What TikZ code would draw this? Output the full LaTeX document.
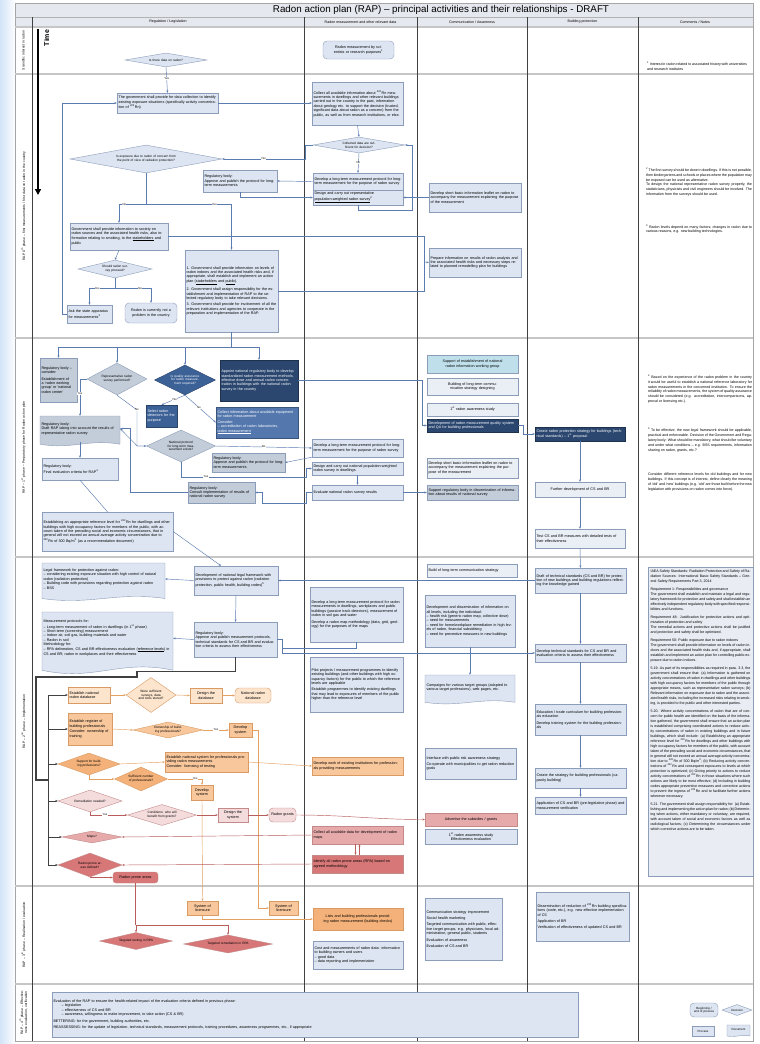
\documentclass[tikz,border=0pt]{standalone}
\usepackage{fontspec}
\setmainfont{Liberation Sans}
\usetikzlibrary{shapes.geometric,arrows.meta,calc}
\definecolor{bord}{HTML}{8C9DB9}
\definecolor{fbox}{HTML}{DCE5F1}
\definecolor{fgrey}{HTML}{C3CDDA}
\definecolor{fwhite}{HTML}{EAEFF6}
\definecolor{navy}{HTML}{2B4770}
\definecolor{blueA}{HTML}{3C6197}
\definecolor{blueB}{HTML}{5478AE}
\definecolor{cyanf}{HTML}{BFE0EB}
\definecolor{lnc}{HTML}{5B7CB1}
\definecolor{orL}{HTML}{FCE4CD}
\definecolor{orM}{HTML}{F8C79C}
\definecolor{orD}{HTML}{F4B27A}
\definecolor{orB}{HTML}{D99B63}
\definecolor{orLn}{HTML}{E3A060}
\definecolor{pkL}{HTML}{F4DCDC}
\definecolor{pkM}{HTML}{E6AAAA}
\definecolor{pkD}{HTML}{D77777}
\definecolor{pkB}{HTML}{C48A8A}
\definecolor{rdLn}{HTML}{B85C5C}
\definecolor{dkLn}{HTML}{404040}
\definecolor{cmfill}{HTML}{E9EDF3}
\definecolor{titf}{HTML}{E5E8EE}
\definecolor{leftb}{HTML}{D3E4F8}
\newcommand\bxf{\fontsize{3.7}{4.4}\selectfont}
\newcommand\dmf{\fontsize{3.2}{3.8}\selectfont}
\newcommand\cmf{\fontsize{3.6}{4.8}\selectfont}
\newcommand\rsup[1]{\textsuperscript{#1}}
\newcommand\mybox[7]{%
 \pgfmathsetmacro\mbw{#5-#3}%
 \pgfmathsetmacro\mbh{#6-#4}%
 \pgfmathsetmacro\mtw{#5-#3-3}%
 \pgfmathsetmacro\mcx{(#3+#5)/2}%
 \pgfmathsetmacro\mcy{(#4+#6)/2}%
 \node[bx,#1,minimum width=\mbw pt,minimum height=\mbh pt,text width=\mtw pt] (#2) at (\mcx,\mcy) {#7};}
\newcommand\mydia[7]{%
 \pgfmathsetmacro\mtw{0.55*#5}%
 \pgfmathsetmacro\masp{#5/#6}%
 \node[dm,#1,minimum width=#5pt,minimum height=#6pt,shape aspect=\masp,text width=\mtw pt] (#2) at (#3,#4) {#7};}
\newcommand\mydoc[7]{%
 \pgfmathsetmacro\mda{0.09*(#6-#4)}%
 \pgfmathsetmacro\mdw{#5-#3}%
 \pgfmathsetmacro\mdyb{#6-\mda}%
 \pgfmathsetmacro\mdyu{#6-3*\mda}%
 \pgfmathsetmacro\mdyd{#6+\mda}%
 \pgfmathsetmacro\mdxa{#3+0.6*\mdw}%
 \pgfmathsetmacro\mdxb{#3+0.4*\mdw}%
 \pgfmathsetmacro\mdyt{#6-2*\mda}%
 \path[bx,#1] (#3,#4) -- (#5,#4) -- (#5,\mdyb) .. controls (\mdxa,\mdyu) and (\mdxb,\mdyd) .. (#3,\mdyb) -- cycle;
 \mybox{#1,draw=none,fill=none}{#2}{#3}{#4}{#5}{\mdyt}{#7}}
\tikzset{
 bx/.style={draw=bord,fill=fbox,line width=0.4pt,inner xsep=1.5pt,inner ysep=0.8pt,align=left,font=\bxf},
 ctr/.style={align=center},
 term/.style={rounded corners=4pt,align=center},
 gb/.style={fill=fgrey},
 nv/.style={fill=navy,draw=navy!70!black,text=white},
 bA/.style={fill=blueA,draw=blueA!70!black,text=white},
 bB/.style={fill=blueB,draw=blueB!70!black,text=white},
 cy/.style={fill=cyanf},
 wl/.style={fill=fwhite},
 ol/.style={fill=orL,draw=orB},
 om/.style={fill=orM,draw=orB},
 od/.style={fill=orD,draw=orB},
 pl/.style={fill=pkL,draw=pkB},
 pm/.style={fill=pkM,draw=pkB},
 pd/.style={fill=pkD,draw=pkB},
 dm/.style={diamond,draw=bord,fill=fbox,line width=0.4pt,inner sep=0pt,align=center,font=\dmf},
 cn/.style={draw=lnc,line width=0.45pt},
 cna/.style={cn,-{Stealth[length=2.4pt,width=2pt]}},
 oc/.style={draw=orLn,line width=0.45pt},
 oca/.style={oc,-{Stealth[length=2.4pt,width=2pt]}},
 rc/.style={draw=rdLn,line width=0.45pt},
 rca/.style={rc,-{Stealth[length=2.4pt,width=2pt]}},
 dk/.style={draw=dkLn,line width=1.3pt},
 dka/.style={draw=dkLn,line width=0.6pt,-{Stealth[length=2.6pt,width=2.2pt]}},
 lbl/.style={font=\fontsize{2.8}{3}\selectfont,fill=white,inner sep=0.3pt},
 cmt/.style={font=\cmf,align=justify,inner sep=0pt},
 rl/.style={rotate=90,font=\fontsize{3.4}{4.1}\selectfont,align=center},
 hd/.style={font=\fontsize{3.6}{4}\selectfont},
}
\begin{document}
\begin{tikzpicture}[x=1pt,y=-1pt]
\useasboundingbox (0,0) rectangle (760,1044);
\fill[white] (0,0) rectangle (760,1044);
\fill[left color=leftb,right color=white] (0,0) rectangle (16,1044);
% frame
\fill[titf] (15,3) rectangle (753,27);
\draw[gray!70,line width=0.6pt] (15,3) rectangle (753,1041);
\draw[gray!60,line width=0.5pt] (15,17) -- (753,17);
\foreach \yy in {27,74,338,557,886,984} \draw[gray!45,line width=1.1pt] (15,\yy) -- (753,\yy);
\foreach \xx in {32,304,417,527,638} \draw[black!75,line width=0.6pt] (\xx,17) -- (\xx,1041);
\node[font=\fontsize{9.8}{10}\selectfont] (title) at (441,10) {Radon action plan (RAP) -- principal activities and their relationships - DRAFT};
\node[hd] (h1) at (168,22) {Regulation / Legislation};
\node[hd] (h2) at (360.5,22) {Radon measurement and other relevant data};
\node[hd] (h3) at (472,22) {Communication / Awareness};
\node[hd] (h4) at (582.5,22) {Building protection};
\node[hd] (h5) at (695,22) {Comments / Notes};
% row labels
\node[rl,text width=44pt] (rl0) at (23.5,50.5) {Scientific interest in radon};
\node[rl,text width=240pt] (rl1) at (23.5,206) {RAP 0\rsup{th} phase -- first measurements / first data on radon in the country};
\node[rl,text width=210pt] (rl2) at (23.5,447.5) {RAP -- 1\rsup{st} phase -- Preparatory phase for Radon action plan};
\node[rl,text width=300pt] (rl3) at (23.5,721.5) {RAP -- 2\rsup{nd} phase -- Implementation};
\node[rl,text width=95pt] (rl4) at (23.5,935) {RAP -- 3\rsup{rd} phase -- Realisation / evaluation};
\node[rl,text width=54pt] (rl5) at (23.5,1012.5) {RAP -- 4\rsup{th} phase -- Effectiveness evaluation, verification};
% time arrow
\draw[line width=2.3pt,-{Triangle[length=6pt,width=6pt]}] (38,29) -- (38,195);
\node[rotate=90,font=\fontsize{7}{7}\selectfont\bfseries] (time) at (46.5,38) {Time};

% ===== Row 0
\mydia{}{d0}{166}{60}{82}{14}{Is there data on radon?}
\mybox{term}{t0}{323}{41}{394}{59}{Radon measurement by scientists or research purposes\rsup{1}}
\node[cmt,text width=100pt] (c0) at (697,66) {\rsup{1} Interest in radon related to associated history with universities and research institutes};

% ===== Row 1
\mybox{}{A}{117}{93}{218}{113}{The government shall provide for data collection to identify existing exposure situations (specifically activity concentration of \rsup{222}Rn)}
\mybox{}{B}{312}{82}{403}{125}{Collect all available information about \rsup{222}Rn measurements in dwellings and other relevant buildings carried out in the country in the past, information about geology etc. to support the decision (trusted, significant data about radon as a concern) from the public, as well as from research institutions, or else.}
\mydia{}{C}{359}{145}{92}{16}{Collected data are sufficient for decision?}
\mydia{}{D}{146}{159}{152}{28}{Is exposure due to radon of concern from the point of view of radiation protection?}
\mybox{}{E}{313}{173}{403}{190}{Develop a long-term measurement protocol for long-term measurement for the purpose of radon survey}
\mybox{}{F}{313}{190}{403}{205}{Design and carry out representative \underline{population-weighted radon survey}\rsup{2}}
\mybox{}{G}{203}{170}{277}{192}{Regulatory body:\\ Approve and publish the protocol for long-term measurements}
\mybox{}{H}{429}{183}{521}{212}{Develop short basic information leaflet on radon to accompany the measurement explaining the purpose of the measurement}
\mybox{}{I}{70}{223}{168}{250}{Government shall provide information to society on radon sources and the associated health risks, also information relating to smoking, to the \underline{stakeholders} and public}
\mybox{}{J}{185}{250}{278}{332}{1. Government shall provide information on levels of radon indoors and the associated health risks and, if appropriate, shall establish and implement an action plan (\underline{stakeholders} and \underline{public}).\\[2pt]
2. Government shall assign responsibility for the establishment and implementation of RAP to the selected regulatory body to take relevant decisions.\\[2pt]
3. Government shall provide for involvement of all the relevant institutions and agencies to cooperate in the preparation and implementation of the RAP.}
\mybox{}{K}{429}{248}{521}{277}{Prepare information on results of radon analysis and the associated health risks and necessary steps related to planned remodelling plan for buildings}
\mydia{}{L}{115}{269}{74}{18}{Should radon survey proceed?}
\mybox{}{M}{67}{305}{112}{323}{Ask the state apparatus for measurements\rsup{3}}
\mybox{term}{N}{125}{303}{177}{323}{Radon is currently not a problem in the country}
\node[cmt,text width=106pt] (c1a) at (699,182) {\rsup{2} The first survey should be done in dwellings. If this is not possible, then kindergartens and schools or places where the population may be exposed can be used as alternative.\\
To design the national representative radon survey properly, the statisticians, physicists and civil engineers should be involved. The information from the surveys should be used.};
\node[cmt,text width=106pt] (c1b) at (699,229) {\rsup{3} Radon levels depend on many factors; changes in radon due to various reasons, e.g. new building technologies.};
% row 1 connectors
\draw[cna] (d0.south) -- (A.north) node[lbl,pos=0.45] {Yes};
\draw[cna] (M.west) -- ++(-5,0) |- (A.west);
\draw[cna] (A.east) -- (A.east -| B.west);
\draw[cna] (B.south) -- (C.north);
\draw[cna] (C.west) -- ++(-8,0) |- (D.east) node[lbl,pos=0.75] {Yes};
\draw[cna] (C.south) -- (E.north) node[lbl,midway] {No};
\draw[cna] (F.south) -- ++(0,5) -| ($(C.east)+(7,0)$) -- (C.east);
\draw[cna] (E.west) -- (G.east);
\draw[cna] (G.south) |- (F.west);
\draw[cna] (H.west) -- (F.east);
\draw[cn] (D.south) -- ++(0,31) coordinate (dsp);
\draw[cna] (dsp) -| (I.north) node[lbl,pos=0.4] {No};
\draw[cna] (dsp) -| (J.north) node[lbl,pos=0.4] {Yes};
\draw[cn] (I.east) -| (424,262);
\draw[cn] (J.east) -| (424,262) coordinate (kj);
\draw[cna] (kj) -- (K.west);
\draw[cna] (I.south) -- (L.north);
\draw[cn] (L.south) -- ++(0,10) coordinate (lsp);
\draw[cna] (lsp) -| (M.north) node[lbl,pos=0.35] {Yes};
\draw[cna] (lsp) -| (N.north) node[lbl,pos=0.35] {No};

% ===== Row 2
\mybox{gb}{R1}{40}{358}{77}{402}{Regulatory body -- consider:\\[2pt] Establishment of a `radon working group' or `national radon center'}
\mydia{gb}{R2}{117}{379}{60}{32}{Representative radon survey performed?}
\mydia{bA,text=white}{R3}{185}{380}{61}{30}{Is quality assurance for radon measurement required?}
\mybox{nv}{R4}{220}{360}{298}{401}{Appoint national regulatory body to develop standardized radon measurement methods, effective dose and annual radon concentration in buildings with the national radon survey in the country}
\mybox{bA}{R5}{146}{405}{177}{427}{Select radon detectors for the purpose}
\mybox{bB}{R6}{216}{407}{298}{438}{Collect information about available equipment for radon measurement\\[1pt] Consider:\\ -- accreditation of radon laboratories, \underline{radon measurement}}
\mydoc{gb}{R7}{40}{416}{120}{447}{Regulatory body:\\ Draft RAP taking into account the results of representative radon survey}
\mydia{gb}{R8}{181}{446}{69}{32}{National protocol for long-term measurement exists?}
\mybox{gb}{R9}{212}{453}{285}{472}{Regulatory body:\\ Approve and publish the protocol for long-term measurements}
\mybox{gb}{R10}{188}{482}{255}{503}{Regulatory body:\\ Consult implementation of results of national radon survey}
\mybox{}{R11}{42}{458}{118}{480}{Regulatory body:\\ Final evaluation criteria for RAP\rsup{4}}
\mybox{}{R12}{42}{512}{173}{551}{Establishing an appropriate reference level for \rsup{222}Rn for dwellings and other buildings with high occupancy factors for members of the public, with account taken of the prevailing social and economic circumstances, that in general will not exceed an annual average activity concentration due to \rsup{222}Rn of 300 Bq/m\rsup{3} (as a recommendation document)}
\mybox{}{E2}{312}{439}{403}{457}{Develop a long-term measurement protocol for long-term measurement for the purpose of radon survey}
\mybox{}{F2}{312}{462}{403}{475}{Design and carry out national population-weighted radon survey in dwellings}
\mybox{}{G2}{312}{485}{403}{500}{Evaluate national radon survey results}
\mybox{cy,ctr}{S0}{427}{355}{518}{373}{Support of establishment of national radon information working group}
\mybox{wl,ctr}{S1}{427}{378}{518}{395}{Building of long-term communication strategy designing}
\mybox{wl,ctr}{S2}{427}{403}{518}{416}{1\rsup{st} radon awareness study}
\mybox{nv}{S3}{427}{419}{518}{432}{Development of radon measurement quality system and QA for building professionals}
\mybox{wl}{S5}{427}{458}{518}{478}{Develop short basic information leaflet on radon to accompany the measurement explaining the purpose of the measurement}
\mybox{gb}{S4}{427}{485}{518}{500}{Support regulatory body in dissemination of information about results of national survey}
\mybox{nv}{B1}{535}{427}{625}{441}{Create radon protection strategy for buildings (technical standards) -- 1\rsup{st} proposal}
\mybox{wl,ctr}{B2}{535}{482}{625}{497}{Further development of CS and BR}
\mybox{wl}{B3}{535}{529}{625}{548}{Test CS and BR measures with detailed tests of their effectiveness}
\node[cmt,text width=104pt] (c2a) at (700,389) {\rsup{4} Based on the experience of the radon problem in the country it would be useful to establish a national reference laboratory for radon measurements in the concerned institution. To ensure the reliability of radon measurements, the system of quality assurance should be considered (e.g. accreditation, intercomparisons, approval or licensing etc.).};
\node[cmt,text width=104pt] (c2b) at (700,440) {\rsup{5} To be effective, the new legal framework should be applicable, practical and enforceable. Decision of the Government and Regulatory body: What should be mandatory, what should be voluntary and under what conditions -- e.g. BSS requirements, information sharing on radon, grants, etc.?};
\node[cmt,text width=104pt] (c2c) at (700,482) {Consider different reference levels for old buildings and for new buildings. If this concept is of interest, define clearly the meaning of `old' and `new' buildings (e.g. `old' are those built before the new legislation with provisions on radon comes into force).};
% row 2 connectors
\draw[cn] (J.south) -- (J.south |- 0,347) coordinate (s2);
\draw[cn] (R1.north |- s2) -- (R4.north |- s2);
\foreach \nn in {R1,R2,R3,R4} \draw[cna] (\nn.north |- s2) -- (\nn.north);
\draw[cna] (R3.south) -- (R5.north) node[lbl,pos=0.45] {Yes};
\draw[cna] (R3.south) -- (R6.west) node[lbl,pos=0.45] {No};
\draw[cna] (R2.west) -| (R7.north) node[lbl,pos=0.7] {Yes};
\draw[cna] (R2.south) -- (137,410) node[lbl,pos=1] {No} |- (R8.west);
\draw[cna] (R8.west) -- ++(-9,0) -- (R7.east);
\draw[cna] (R8.east) -- (E2.west) node[lbl,midway] {No};
\draw[cna] (E2.south west) -- (R9.east);
\draw[cna] (R8.south) |- (306,477) node[lbl,pos=0.6] {Yes} |- (F2.west);
\draw[cna] (F2.south) -- (G2.north);
\draw[cna] (G2.west) -- ++(-6,0) |- (262,503) |- (R10.east);
\draw[cna] (R10.west) -| ($(R7.east)+(10,0)$) -- (R7.east);
\draw[cna] (R7.south) -- (R11.north);
\draw[cn] (R11.south) -- (R12.north);
\draw[cna] (R4.east) -- (422,380.5) |- (S3.west);
\draw[cna] (S3.east) -- ++(5,0) |- (B1.west);
\draw[cna] (B1.south) -- (B2.north);
\draw[cna] (B2.south) -- (B3.north);
\draw[cna] (G2.east) -- (S4.west);

% ===== Row 3
\mybox{}{T1}{194}{566}{278}{595}{Development of national legal framework with provisions to protect against radon (radiation protection, public health, building codes)\rsup{5}}
\mydoc{}{T2}{42}{563}{165}{602}{Legal framework for protection against radon:\\ -- considering existing exposure situation with high control of natural radon (radiation protection)\\ -- Building code with provisions regarding protection against radon\\ -- BSS}
\mybox{}{T3}{194}{622}{277}{657}{Regulatory body:\\ Approve and publish measurement protocols, technical standards for CS and BR and evaluation criteria to assess their effectiveness}
\mydoc{}{T4}{42}{612}{173}{676}{Measurement protocols for:\\ -- Long-term measurement of radon in dwellings (in 1\rsup{st} phase)\\ -- Short-term (screening) measurement\\ -- Indoor air, soil gas, building materials and water\\ -- Radon in soil\\ Methodology for:\\ -- RPA delineation, CS and BR effectiveness evaluation (\underline{reference levels}) in CS and BR; radon in workplaces and their effectiveness}
\mybox{}{M1}{310}{587}{403}{642}{Develop a long-term measurement protocol for radon measurements in dwellings, workplaces and public buildings (passive track detectors), measurement of radon in soil gas and water\\[2pt] Develop a radon map methodology (data, grid, geology) for the purposes of the maps}
\mybox{}{M2}{310}{657}{403}{712}{Pilot projects / measurement programmes to identify existing buildings (and other buildings with high occupancy factors) for the public to which the reference levels are applicable\\[2pt] Establish programmes to identify existing dwellings that may lead to exposures of members of the public higher than the reference level}
\mybox{wl}{C1}{427}{564}{517}{577}{Build of long-term communication strategy}
\mybox{}{C2}{425}{595}{515}{647}{Development and dissemination of information on all levels, including the individual:\\ -- health risk (generic radon map, collective dose)\\ -- need for measurements\\ -- need for home/workplace remediation in high levels of radon, financial subsidising\\ -- need for preventive measures in new buildings}
\mydoc{}{C3}{425}{675}{515}{705}{Campaigns for various target groups (adapted to various target professions), web pages, etc.}
\mybox{}{BB1}{535}{568}{626}{593}{Draft of technical standards (CS and BR) for protection of new buildings and building regulations reflecting the knowledge gained}
\mybox{}{BB2}{535}{644}{626}{662}{Develop technical standards for CS and BR and evaluation criteria to assess their effectiveness}
\mybox{}{BB3}{535}{704}{626}{735}{Education / trade curriculum for building professionals education\\[2pt] Develop training system for the building professionals}
\mybox{}{BB4}{535}{768}{626}{788}{Create the strategy for building professionals (capacity building)}
\mybox{}{BB5}{535}{797}{626}{814}{Application of CS and BR (pre-legislative phase) and measurement verification}
\mybox{}{C4}{425}{748}{516}{779}{Interface with public risk awareness strategy\\[2pt] Co-operate with municipalities to get radon reduction goals}
\mybox{pm,ctr}{C5}{425}{813}{517}{826}{Advertise the subsidies / grants}
\mybox{ctr}{C6}{425}{829}{517}{844}{1\rsup{st} radon awareness study\\ Effectiveness evaluation}
% comments box row 3
\node[draw=bord,fill=cmfill,line width=0.4pt,minimum width=105pt,minimum height=309pt,inner sep=0pt] (CMB) at (700.5,721.5) {};
\node[cmt,font=\fontsize{3.6}{5.0}\selectfont,text width=100pt,anchor=north] (CMT) at ($(CMB.north)+(0,3)$) {IAEA Safety Standards: Radiation Protection and Safety of Radiation Sources: International Basic Safety Standards -- General Safety Requirements Part 3, 2014\\[3pt]
Requirement 1: Responsibilities and governance\\ The government shall establish and maintain a legal and regulatory framework for protection and safety and shall establish an effectively independent regulatory body with specified responsibilities and functions.\\[3pt]
Requirement 48: Justification for protective actions and optimization of protection and safety\\ The remedial actions and protective actions shall be justified and protection and safety shall be optimized.\\[3pt]
Requirement 50: Public exposure due to radon indoors\\ The government shall provide information on levels of radon indoors and the associated health risks and, if appropriate, shall establish and implement an action plan for controlling public exposure due to radon indoors.\\[3pt]
5.19. As part of its responsibilities as required in para. 3.3, the government shall ensure that: (a) Information is gathered on activity concentrations of radon in dwellings and other buildings with high occupancy factors for members of the public through appropriate means, such as representative radon surveys; (b) Relevant information on exposure due to radon and the associated health risks, including the increased risks relating to smoking, is provided to the public and other interested parties.\\[3pt]
5.20. Where activity concentrations of radon that are of concern for public health are identified on the basis of the information gathered, the government shall ensure that an action plan is established comprising coordinated actions to reduce activity concentrations of radon in existing buildings and in future buildings, which shall include: (a) Establishing an appropriate reference level for \rsup{222}Rn for dwellings and other buildings with high occupancy factors for members of the public, with account taken of the prevailing social and economic circumstances, that in general will not exceed an annual average activity concentration due to \rsup{222}Rn of 300 Bq/m\rsup{3}; (b) Reducing activity concentrations of \rsup{222}Rn and consequent exposures to levels at which protection is optimized; (c) Giving priority to actions to reduce activity concentrations of \rsup{222}Rn in those situations where such actions are likely to be most effective; (d) Including in building codes appropriate preventive measures and corrective actions to prevent the ingress of \rsup{222}Rn and to facilitate further actions wherever necessary.\\[3pt]
5.21. The government shall assign responsibility for: (a) Establishing and implementing the action plan for radon; (b) Determining when actions, either mandatory or voluntary, are required, with account taken of social and economic factors as well as radiological factors; (c) Determining the circumstances under which corrective actions are to be taken.};
% row 3 connectors
\draw[cna] (B3.south) -- (BB1.north);
\draw[cna] (BB1.west) -- (T1.east);
\draw[cna] (T1.west) -- (T2.east);
\draw[cna] (R12.east) -- ($(T1.north)+(-15,0)$);
\draw[cna] (T1.south) -- (T3.north);
\draw[cna] (T3.west) -- (T4.east);
\draw[cna] (T3.east) -- ++(5,0) |- (BB2.west);
\coordinate (j3) at (282,648);
\draw[cn] (M1.south) |- (j3);
\draw[cna] (C2.south) -- (C3.north);
\draw[cna] (BB1.south) -- (BB2.north);
\draw[cna] (BB2.south) -- (BB3.north);
\draw[cna] (BB3.south) -- (BB4.north);
\draw[cna] (BB4.south) -- (BB5.north);
% thick bus
\draw[dk] (T3.south) -- ++(0,14) -| (137,677) -| (36,780) -- (48,780);
\coordinate (bus) at (48,0);
\draw[draw=dkLn,line width=0.8pt] (48,695) -- (48,865);
% orange / red items
\mybox{ol}{O1}{68}{687}{110}{703}{Establish national radon database}
\mydia{fill=orL,draw=orB}{O2}{151}{695}{50}{35}{Were sufficient surveys, data and tools stored?}
\mybox{ol,ctr}{O3}{190}{688}{222}{703}{Design the database}
\mybox{ol,term}{O4}{235}{688}{271}{703}{National radon database}
\mybox{om}{P1}{68}{713}{112}{745}{Establish register of building professionals\\[1pt] Consider: ownership of training}
\mydia{fill=orM,draw=orB}{P2}{168}{730}{70}{16}{Ownership of building professionals?}
\mybox{om,ctr}{P3}{229}{723}{252}{737}{Develop system}
\mydia{fill=orD,draw=orB}{Q1}{89}{764}{62}{22}{Support for building professions?}
\mydia{fill=orD,draw=orB}{Q3}{141}{779}{53}{24}{Sufficient number of professionals?}
\mybox{om}{Q4}{165}{752}{248}{772}{Establish national system for professionals providing radon measurements\\ Consider: licensing of testing}
\mybox{om}{Q5}{312}{757}{403}{775}{Develop work of existing institutions for professionals providing measurements}
\mybox{om,ctr}{Q6}{191}{785}{213}{800}{Develop system}
\mybox{om,ctr}{Q7}{187}{901}{218}{915}{System of licensure}
\mybox{om,ctr}{Q8}{269}{901}{298}{915}{System of licensure}
\mybox{od,ctr}{H1}{313}{908}{403}{930}{Lists and building professionals providing radon measurement (building checks)}
\mydia{fill=pkL,draw=pkB}{D1}{90}{801}{64}{22}{Remediation needed?}
\mydia{fill=pkL,draw=pkB}{D2}{162}{815}{69}{21}{Conditions: who will benefit from grants?}
\mybox{pl,ctr}{D3}{218}{808}{248}{822}{Design the system}
\mybox{pl,term}{D4}{269}{808}{296}{822}{Radon grants}
\mydia{fill=pkM,draw=pkB}{E1}{92}{837}{60}{12}{Maps?}
\mybox{pm}{E2r}{312}{826}{403}{844}{Collect all available data for development of radon maps}
\mydia{fill=pkD,draw=pkB}{F1}{90}{865}{64}{24}{Radon-prone areas defined?}
\mybox{pd}{F2r}{312}{855}{403}{873}{Identify all radon prone areas (RPA) based on agreed methodology}
\mybox{pd,term,rounded corners=3pt}{F3}{113}{872}{158}{883}{Radon prone areas}
\foreach \nn in {O1,P1,Q1,D1,E1,F1} \draw[dka] (\nn.west -| bus) -- (\nn.west);
\draw[oca] (O1.east) -- (O2.west);
\draw[oca] (O2.east) -- (O3.west);
\draw[oca] (O3.east) -- (O4.west);
\draw[oca] (P1.east) -- (P2.west);
\draw[oca] (P2.east) -- (P3.west) node[lbl,midway] {Yes};
\draw[oca] (P3.east) -| (258,908) -- (Q8.west);
\draw[oca] (Q1.east) -- (Q4.west);
\draw[oca] (Q1.south) |- (Q3.west);
\draw[oca] (Q3.east) -| (Q6.north) node[lbl,pos=0.4] {Yes};
\draw[oca] (Q4.east) -- (Q5.west);
\draw[oca] (Q6.south) -- (Q7.north);
\draw[oca] (Q7.south) |- (H1.west);
\draw[rca] (D1.south) |- (D2.west) node[lbl,pos=0.7] {Yes};
\draw[rca] (D2.east) -- (D3.west);
\draw[rca] (D3.east) -- (D4.west);
\draw[rca] (D4.east) to[out=0,in=180] (C5.west);
\draw[rca] (E2r.west) -- (E1.east);
\draw[rca] (F2r.west) -- (F1.east);
\draw[rca] ($(E2r.south)+(-2,0)$) -- ($(F2r.north)+(-2,0)$);
\draw[rca] ($(F2r.north)+(2,0)$) -- ($(E2r.south)+(2,0)$);
\draw[rca] (F1.south) |- (F3.west);

% ===== Row 4
\mydia{fill=pkD,draw=pkB}{G1}{136}{941}{73}{17}{Targeted testing in RPA}
\mydia{fill=pkD,draw=pkB}{G2r}{228}{944}{89}{18}{Targeted remediation in RPA}
\draw[rc] (F3.south) -- (F3.south |- 0,925) coordinate (gsp);
\draw[rca] (gsp) -| (G1.north);
\draw[rca] (gsp) -| (G2r.north);
\mybox{}{H2}{313}{941}{403}{969}{Cost and measurements of radon data: information to building owners and users\\ -- good data\\ -- data reporting and implementation}
\mybox{}{H3}{425}{898}{502}{960}{Communication strategy improvement\\[2pt] Social health marketing\\[2pt] Targeted communication with public, effective target groups, e.g. physicians, local administration, general public, students\\[2pt] Evaluation of awareness\\[2pt] Evaluation of CS and BR}
\mybox{}{H4}{536}{892}{629}{941}{Dissemination of reduction of \rsup{222}Rn building specifications (code, etc.), e.g. new effective implementation of CS\\[2pt] Application of BR\\[2pt] Verification of effectiveness of updated CS and BR}

% ===== Row 5
\mybox{}{EV}{52}{992}{578}{1037}{Evaluation of the RAP to ensure the health-related impact of the evaluation criteria defined in previous phase:\\
\hspace*{8pt}-- legislation\\
\hspace*{8pt}-- effectiveness of CS and BR\\
\hspace*{8pt}-- awareness, willingness to make improvement, to take action (CS \& BR)\\[2pt]
BETTERING: for the government, building authorities, etc.\\[2pt]
REASSESSING: for the update of legislation, technical standards, measurement protocols, training procedures, awareness programmes, etc., if appropriate}
% legend
\mybox{term,font=\fontsize{3}{3.5}\selectfont}{Lt}{690}{1003}{718}{1017}{Beginning / end of process}
\mydia{font=\fontsize{3}{3.5}\selectfont}{Ld}{737}{1010}{30}{11}{Decision}
\mybox{ctr,font=\fontsize{3}{3.5}\selectfont}{Lp}{692}{1026}{714}{1036}{Process}
\mydoc{ctr,font=\fontsize{3}{3.5}\selectfont}{Lc}{727}{1025}{750}{1037}{Document}
\end{tikzpicture}
\end{document}
